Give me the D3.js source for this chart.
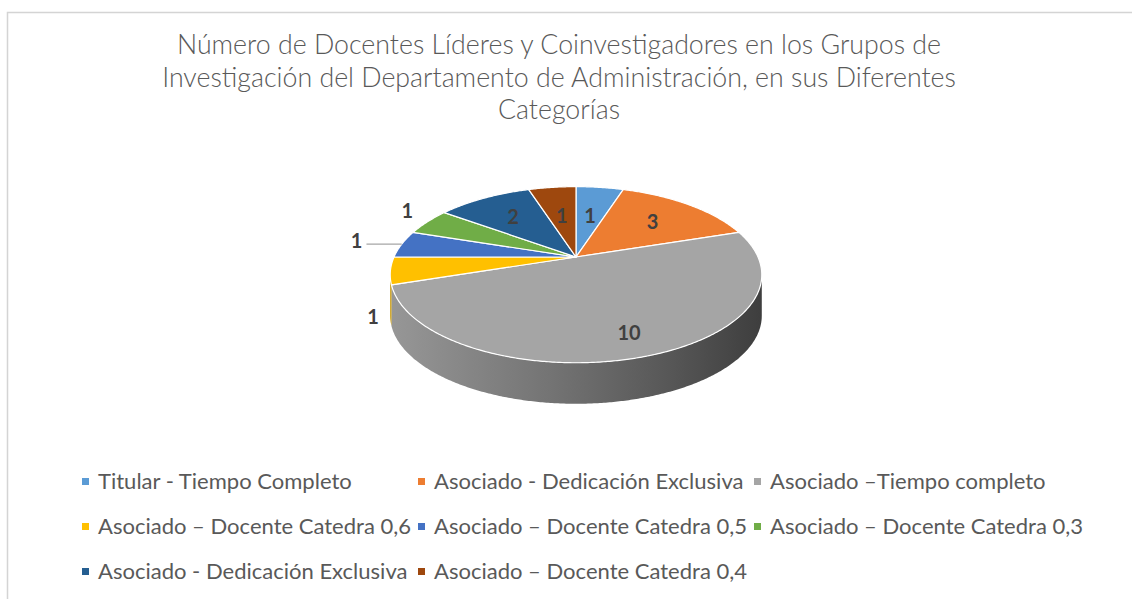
<!DOCTYPE html>
<html>
<head>
<meta charset="utf-8">
<script src="https://cdn.jsdelivr.net/npm/d3@7"></script>
<style>
  body { margin: 0; background: #fff; }
  svg { display: block; }
</style>
</head>
<body>
<svg id="chart" width="1132" height="599"></svg>
<script>
// chart data
const titleLines = [
  "Número de Docentes Líderes y Coinvestigadores en los Grupos de",
  "Investigación del Departamento de Administración, en sus Diferentes",
  "Categorías"
];
const categories = [
  "Titular - Tiempo Completo",
  "Asociado - Dedicación Exclusiva",
  "Asociado –Tiempo completo",
  "Asociado – Docente Catedra 0,6",
  "Asociado – Docente Catedra 0,5",
  "Asociado – Docente Catedra 0,3",
  "Asociado - Dedicación Exclusiva",
  "Asociado – Docente Catedra 0,4"
];
const values = [1, 3, 10, 1, 1, 1, 2, 1];
const colors = ["#5B9BD5", "#ED7D31", "#A5A5A5", "#FFC000", "#4472C4", "#70AD47", "#255E91", "#9E480E"];

// label placement (radius fraction, drop along the side, leader line)
const labelPlace = [
  {r: 0.55, d: 0},
  {r: 0.65, d: 0},
  {r: 0.80, d: 0},
  {r: 1.09, d: 1.1},
  {r: 1.27, d: 0, leader: true},
  {r: 1.15, d: -0.15},
  {r: 0.65, d: 0},
  {r: 0.55, d: 0}
];

const svg = d3.select("#chart");
const W = 1132, H = 599;

// frame
svg.append("path")
  .attr("d", `M7.5,${H} V12.5 H${W}`)
  .attr("fill", "none")
  .attr("stroke", "#d4d4d4")
  .attr("stroke-width", 1.5);

// title, sized so the lines match the original width
const titleFont = "Lato, 'Open Sans', sans-serif";
const title = svg.append("g").attr("fill", "#595959")
  .style("font-family", titleFont).style("font-weight", 300);
const tLines = title.selectAll("text").data(titleLines).enter().append("text")
  .attr("x", 559)
  .attr("y", (d, i) => 54 + i * 32.5)
  .attr("text-anchor", "middle")
  .style("font-size", "25px")
  .text(d => d);
const t2w = tLines.nodes()[1].getComputedTextLength();
const tSize = 25 * 794 / t2w;
tLines.style("font-size", tSize + "px");

// 3D pie projection
const cx = 576, cy = 257, R = 182, Rt = 84.5, k = 0.201, depth = 41;
function proj(theta, r, d) {
  const x = r * Math.sin(theta), z = -r * Math.cos(theta);
  const w = 1 - k * z;
  return [cx + R * x / w, cy + Rt * z / w + depth * d];
}
const step = Math.PI / 360;
function arcPts(a0, a1, r, d) {
  const n = Math.max(2, Math.ceil((a1 - a0) / step));
  return d3.range(n + 1).map(i => proj(a0 + (a1 - a0) * i / n, r, d));
}
const line = d3.line();

const arcs = d3.pie().sort(null).startAngle(0).endAngle(2 * Math.PI)(values);

// silhouette of the rim (extreme left / right points of the front half)
const front = d3.range(0.3 * Math.PI, 1.7 * Math.PI, step);
const sideFrom = d3.greatest(front, t => proj(t, 1, 0)[0]);
const sideTo = d3.least(front, t => proj(t, 1, 0)[0]);

// gradient for the big grey wall
const defs = svg.append("defs");
const grad = defs.append("linearGradient")
  .attr("id", "sideGrey")
  .attr("gradientUnits", "userSpaceOnUse")
  .attr("x1", proj(sideTo, 1, 0)[0]).attr("x2", proj(sideFrom, 1, 0)[0])
  .attr("y1", 0).attr("y2", 0);
[[0, "#979797"], [0.45, "#727272"], [0.75, "#575757"], [1, "#3e3e3e"]].forEach(s =>
  grad.append("stop").attr("offset", s[0]).attr("stop-color", s[1]));

const pie = svg.append("g");

// walls of the front half
const sides = pie.append("g");
arcs.forEach((a, i) => {
  const a0 = Math.max(a.startAngle, sideFrom);
  const a1 = Math.min(a.endAngle, sideTo);
  if (a1 <= a0) return;
  const pts = arcPts(a0, a1, 1, 0).concat(arcPts(a0, a1, 1, 1).reverse());
  sides.append("path")
    .attr("d", line(pts) + "Z")
    .attr("fill", i === 2 ? "url(#sideGrey)" : d3.color(colors[i]).darker(0.7))
    .attr("stroke", "none");
});

// top faces
pie.append("g").selectAll("path").data(arcs).enter().append("path")
  .attr("d", a => line([[cx, cy]].concat(arcPts(a.startAngle, a.endAngle, 1, 0))) + "Z")
  .attr("fill", (a, i) => colors[i])
  .attr("stroke", "#fff")
  .attr("stroke-width", 1.2)
  .attr("stroke-linejoin", "round");

// data labels
const labels = pie.append("g");
arcs.forEach((a, i) => {
  const p = labelPlace[i];
  const mid = (a.startAngle + a.endAngle) / 2;
  const pos = proj(mid, p.r, p.d);
  if (p.leader) {
    const from = proj(mid, 1, 0);
    labels.append("line")
      .attr("x1", from[0]).attr("y1", from[1])
      .attr("x2", pos[0] + 10).attr("y2", from[1])
      .attr("stroke", "#a6a6a6").attr("stroke-width", 1.2);
  }
  labels.append("text")
    .attr("x", pos[0]).attr("y", pos[1])
    .attr("text-anchor", "middle")
    .attr("dy", "0.36em")
    .attr("fill", "#404040")
    .style("font-family", "Lato, 'Open Sans', sans-serif")
    .style("font-weight", 700)
    .style("font-size", "20px")
    .text(a.data);
});

// legend
const legend = svg.append("g")
  .style("font-family", titleFont)
  .attr("fill", "#595959");
const probe = legend.append("text").style("font-size", "20px").text(categories[0]);
const lSize = 20 * 254 / probe.node().getComputedTextLength();
probe.remove();

const items = legend.selectAll("g").data(categories).enter().append("g");
items.append("text")
  .attr("x", 16)
  .attr("dy", "0.35em")
  .style("font-size", lSize + "px")
  .text(d => d);
const maxW = d3.max(items.select("text").nodes(), n => n.getComputedTextLength());
const colW = 15 + maxW + 8;
items.attr("transform", (d, i) => `translate(${82 + (i % 3) * colW},${481.5 + Math.floor(i / 3) * 45})`);
items.append("rect")
  .attr("x", 0).attr("y", -3.5)
  .attr("width", 7).attr("height", 7)
  .attr("fill", (d, i) => colors[i]);
</script>
</body>
</html>
